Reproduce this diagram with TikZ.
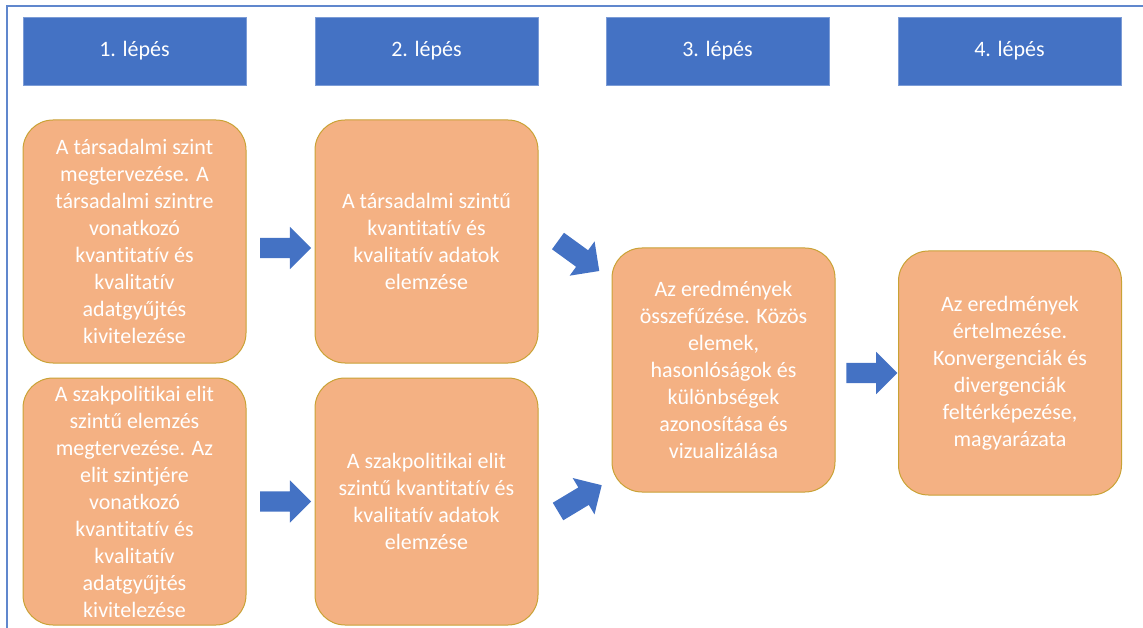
\documentclass[tikz,border=0pt]{standalone}
\usepackage{fontspec}
\setmainfont{Carlito}[Ligatures=NoCommon]
\usetikzlibrary{shapes,arrows,calc,positioning}
\definecolor{stepBlue}{HTML}{4472C4}
\definecolor{taskOrange}{HTML}{F4B183}
\definecolor{taskEdge}{HTML}{C9A235}

\begin{document}
\begin{tikzpicture}[x=1pt,y=1pt,
headBox/.style={rectangle,fill=stepBlue,draw=stepBlue!70!white,line width=.8pt,minimum width=223pt,minimum height=68pt,inner sep=0pt,text=white,font=\fontsize{22}{27}\selectfont},
taskBox/.style={rectangle,rounded corners=30pt,fill=taskOrange,draw=taskEdge,line width=1pt,minimum width=223pt,inner sep=0pt,text=white,align=center,font=\fontsize{22}{27}\selectfont},
blockArrow/.style={single arrow,fill=stepBlue,draw=none,minimum height=51pt,inner xsep=0pt,inner ysep=10pt,single arrow head extend=11pt}]

\useasboundingbox (0,0) rectangle (1143,-628);

% outer frame (only top and left edge fall inside)
\draw[stepBlue!85!white,line width=1.5pt] (7,-628) -- (7,-6) -- (1143,-6);

% the four step headers
\foreach \x [count=\i] in {134.5,426.5,717.5,1009.5}
\node[headBox] (h\i) at (\x,-51) {\i. lépés};

% step 1
\node[taskBox,minimum height=243pt] (a1) at (134.5,-241.5) {A társadalmi szint\\megtervezése. A\\társadalmi szintre\\vonatkozó\\kvantitatív és\\kvalitatív\\adatgyűjtés\\kivitelezése};
\node[taskBox,minimum height=247pt] (a2) at (134.5,-501.5) {A szakpolitikai elit\\szintű elemzés\\megtervezése. Az\\elit szintjére\\vonatkozó\\kvantitatív és\\kvalitatív\\adatgyűjtés\\kivitelezése};

% step 2
\node[taskBox,minimum height=243pt] (b1) at (426.5,-241.5) {A társadalmi szintű\\kvantitatív és\\kvalitatív adatok\\elemzése};
\node[taskBox,minimum height=247pt] (b2) at (426.5,-501.5) {A szakpolitikai elit\\szintű kvantitatív és\\kvalitatív adatok\\elemzése};

% step 3 and 4
\node[taskBox,minimum height=244pt] (c) at (723.5,-370) {Az eredmények\\összefűzése. Közös\\elemek,\\hasonlóságok és\\különbségek\\azonosítása és\\vizualizálása};
\node[taskBox,minimum height=244pt] (d) at (1010,-373) {Az eredmények\\értelmezése.\\Konvergenciák és\\divergenciák\\feltérképezése,\\magyarázata};

% block arrows between the boxes
\node[blockArrow] (arr1) at ($(a1.east)!.5!(b1.west)+(0,-6.5)$) {};
\node[blockArrow] (arr2) at ($(a2.east)!.5!(b2.west)$) {};
\node[blockArrow,rotate=-36] (arr3) at ($(b1.east)+(36,-11.5)$) {};
\node[blockArrow,rotate=31] (arr4) at ($(b2.east)+(37,0.5)$) {};
\node[blockArrow] (arr5) at ($(c.east)!.5!(d.west)+(0,-1.5)$) {};

\end{tikzpicture}
\end{document}
